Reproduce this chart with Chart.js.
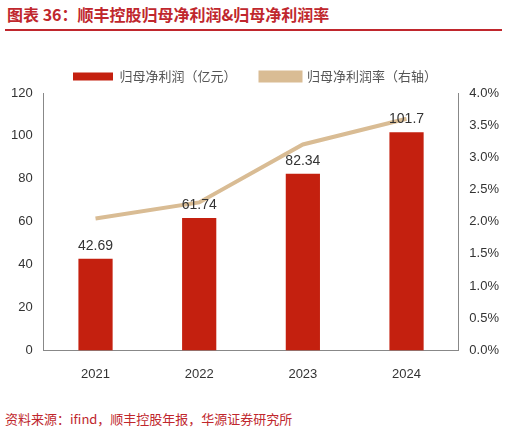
<!DOCTYPE html>
<html><head><meta charset="utf-8">
<script src="https://cdn.jsdelivr.net/npm/chart.js@4"></script>
<style>
body{margin:0;width:508px;height:436px;background:#fff;font-family:"Noto Sans CJK SC",sans-serif;position:relative;overflow:hidden}
#title{position:absolute;left:7px;top:2px;color:#c0272d;font-size:16px;font-weight:bold}
#rule{position:absolute;left:5px;right:6px;top:29px;border-top:2px solid #c0272d}
#box{position:absolute;left:0;top:46px;width:508px;height:344px}
#src{position:absolute;left:5px;top:409px;font-size:13px;color:#c0272d}
</style></head><body>
<div id="title">图表 36：顺丰控股归母净利润&amp;归母净利润率</div>
<div id="rule"></div>
<div id="box"><canvas id="c"></canvas></div>
<div id="src">资料来源：ifind，顺丰控股年报，华源证券研究所</div>
<script>
const years = ["2021", "2022", "2023", "2024"];
const netProfit = [42.69, 61.74, 82.34, 101.7];
const netMargin = [2.05, 2.3, 3.2, 3.6];

const labelPlugin = {
  id: 'labels',
  afterDatasetsDraw(chart) {
    const ctx = chart.ctx;
    chart.getDatasetMeta(0).data.forEach((bar, i) => {
      ctx.save();
      ctx.font = '14px "Liberation Sans", Arial';
      ctx.fillStyle = '#333';
      ctx.textAlign = 'center';
      ctx.textBaseline = 'bottom';
      ctx.fillText(String(netProfit[i]), bar.x, bar.y - 6);
      ctx.restore();
    });
  }
};

new Chart(document.getElementById('c'), {
  data: {
    labels: years,
    datasets: [
      {type: 'bar', label: '归母净利润（亿元）', data: netProfit, backgroundColor: '#c4200f',
       yAxisID: 'y', barPercentage: 0.33, categoryPercentage: 1, order: 2},
      {type: 'line', label: '归母净利润率（右轴）', data: netMargin, borderColor: '#d9bc94',
       backgroundColor: '#d9bc94', borderWidth: 4, pointRadius: 0, yAxisID: 'y1', order: 1}
    ]
  },
  options: {
    responsive: true, maintainAspectRatio: false, animation: false,
    layout: {padding: {left: 8, right: 6, top: 0}},
    plugins: {
      legend: {labels: {boxWidth: 40, boxHeight: 8, color: '#555',
        sort: (a, b) => a.datasetIndex - b.datasetIndex,
        padding: 24,
        font: {size: 13, family: '"Noto Sans CJK SC"'}}},
      tooltip: {enabled: false}
    },
    scales: {
      x: {grid: {display: false}, border: {color: '#888'},
          ticks: {color: '#333', padding: 8, font: {size: 13, family: '"Liberation Sans"'}}},
      y: {min: 0, max: 120, grid: {display: false}, border: {color: '#888'},
          ticks: {stepSize: 20, color: '#333', font: {size: 13, family: '"Liberation Sans"'}}},
      y1: {position: 'right', min: 0, max: 4, grid: {display: false}, border: {color: '#888'},
          ticks: {stepSize: 0.5, color: '#333', font: {size: 13, family: '"Liberation Sans"'},
                  callback: v => v.toFixed(1) + '%'}}
    }
  },
  plugins: [labelPlugin]
});
</script>
</body></html>
